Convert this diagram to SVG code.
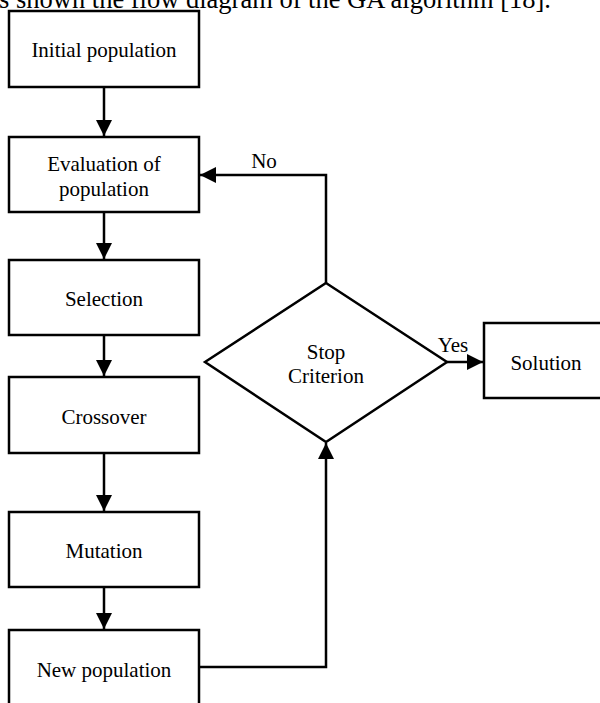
<svg xmlns="http://www.w3.org/2000/svg" width="600" height="703" viewBox="0 0 600 703">
  <defs>
    <style>
      .box { fill: #ffffff; stroke: #000000; stroke-width: 2.5; }
      .lbl { font-family: "Liberation Serif", "Times New Roman", serif; font-size: 21px; fill: #000000; text-anchor: middle; }
      .conn { fill: none; stroke: #000000; stroke-width: 2.5; }
      .cap { font-family: "Liberation Serif", "Times New Roman", serif; font-size: 26.5px; fill: #000000; }
    </style>
    <marker id="arrow" markerUnits="userSpaceOnUse" markerWidth="16" markerHeight="16" refX="16" refY="8" orient="auto" viewBox="0 0 16 16">
      <path d="M0,0 L16,8 L0,16 Z" fill="#000000"/>
    </marker>
  </defs>
  <rect width="600" height="703" fill="#ffffff"/>

  <text class="cap" x="-1" y="7.5">s shown the flow diagram of the GA algorithm [18].</text>

  <g id="connectors">
    <path class="conn" d="M104,87 V136" marker-end="url(#arrow)"/>
    <path class="conn" d="M104,212 V259" marker-end="url(#arrow)"/>
    <path class="conn" d="M104,335 V376" marker-end="url(#arrow)"/>
    <path class="conn" d="M104,453 V511" marker-end="url(#arrow)"/>
    <path class="conn" d="M104,587 V629" marker-end="url(#arrow)"/>
    <path class="conn" d="M199,667 H326 V443" marker-end="url(#arrow)"/>
    <path class="conn" d="M326,283 V175 H200" marker-end="url(#arrow)"/>
    <path class="conn" d="M447,362 H483" marker-end="url(#arrow)"/>
    <text class="lbl" x="264" y="168">No</text>
    <text class="lbl" x="453" y="352">Yes</text>
  </g>

  <g id="initial">
    <rect class="box" x="9" y="11" width="190" height="76"/>
    <text class="lbl" x="104" y="57">Initial population</text>
  </g>
  <g id="evaluation">
    <rect class="box" x="9" y="137" width="190" height="75"/>
    <text class="lbl" x="104" y="171">Evaluation of</text>
    <text class="lbl" x="104" y="196">population</text>
  </g>
  <g id="selection">
    <rect class="box" x="9" y="260" width="190" height="75"/>
    <text class="lbl" x="104" y="306">Selection</text>
  </g>
  <g id="crossover">
    <rect class="box" x="9" y="377" width="190" height="76"/>
    <text class="lbl" x="104" y="424">Crossover</text>
  </g>
  <g id="mutation">
    <rect class="box" x="9" y="512" width="190" height="75"/>
    <text class="lbl" x="104" y="558">Mutation</text>
  </g>
  <g id="newpop">
    <rect class="box" x="9" y="630" width="190" height="80"/>
    <text class="lbl" x="104" y="677">New population</text>
  </g>
  <g id="stop">
    <polygon class="box" points="326,283 447,362 326,442 205,362"/>
    <text class="lbl" x="326" y="359">Stop</text>
    <text class="lbl" x="326" y="383">Criterion</text>
  </g>
  <g id="solution">
    <rect class="box" x="484" y="323" width="130" height="75"/>
    <text class="lbl" x="546" y="370">Solution</text>
  </g>
</svg>
